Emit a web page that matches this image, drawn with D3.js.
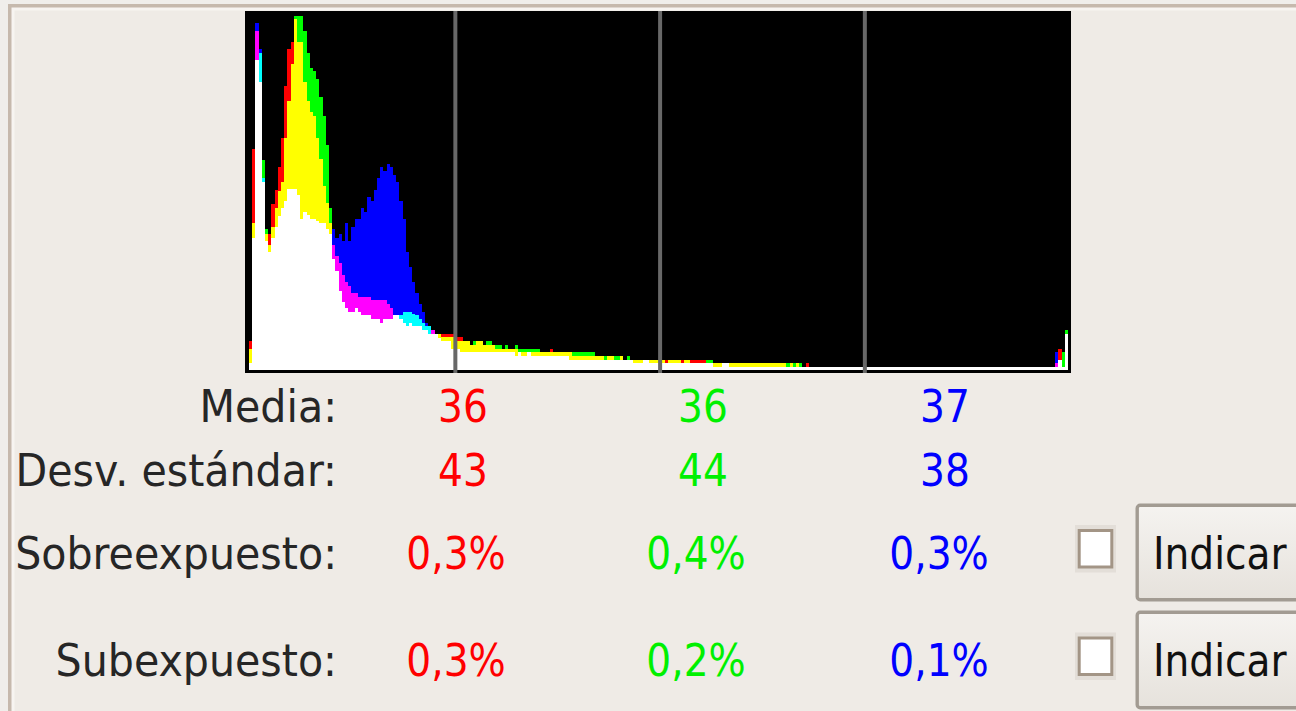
<!DOCTYPE html>
<html>
<head>
<meta charset="utf-8">
<script src="https://cdn.jsdelivr.net/npm/d3@7"></script>
<style>
  body { margin: 0; background: #f0eeeb; overflow: hidden; }
  svg { display: block; }
  text { font-family: "DejaVu Sans", sans-serif; }
</style>
</head>
<body>
<script>
// Histogram counts per level (0..255), relative units
var redCounts = [
  29,221,339,288,188,136,136,166,180,203,232,284,321,328,351,328,
  328,288,269,258,254,232,211,184,167,147,125,114,107,95,88,84,
  77,77,73,73,73,73,70,70,70,70,70,66,62,55,55,51,
  47,44,47,44,44,44,40,40,36,40,36,36,36,36,36,36,
  33,33,33,29,29,25,25,29,29,25,25,25,25,21,21,21,
  21,21,21,21,18,18,18,18,18,18,18,18,18,18,21,18,
  18,18,18,18,18,14,14,14,14,14,14,14,14,14,14,10,
  14,14,10,10,14,10,10,10,10,10,10,10,10,10,10,10,
  10,10,10,10,10,10,10,10,10,10,10,10,10,10,10,7,
  7,7,7,7,7,7,7,7,7,7,7,7,7,7,7,7,
  7,7,7,7,7,7,7,7,3,7,3,7,3,3,7,3,
  3,3,3,3,3,3,3,3,3,3,3,3,3,3,3,3,
  3,3,3,3,3,3,3,3,3,3,3,3,3,3,3,3,
  3,3,3,3,3,3,3,3,3,3,3,3,3,3,3,3,
  3,3,3,3,3,3,3,3,3,3,3,3,3,3,3,3,
  3,3,3,3,3,3,3,3,3,3,3,3,7,21,3,36
];
var greenCounts = [
  21,147,310,317,210,141,125,143,162,179,188,232,269,306,354,354,
  354,339,317,302,299,291,273,254,225,162,111,99,79,68,62,58,
  58,62,58,55,55,55,51,51,51,47,51,51,51,55,55,55,
  58,58,58,56,55,51,47,44,44,36,36,36,33,33,33,33,
  29,29,29,29,29,25,29,29,29,25,29,29,25,25,25,21,
  25,21,21,25,21,21,21,21,21,21,21,18,18,18,18,18,
  18,18,18,18,18,18,18,18,18,18,18,18,14,14,14,14,
  14,14,14,14,14,10,14,10,10,10,10,10,10,10,10,10,
  10,10,7,10,10,10,10,7,10,10,7,7,7,7,7,10,
  10,7,7,7,7,7,7,7,7,7,7,7,7,7,7,7,
  7,7,7,7,7,7,7,7,7,7,7,7,7,3,3,3,
  3,3,3,3,3,3,3,3,3,3,3,3,3,3,3,3,
  3,3,3,3,3,3,3,3,3,3,3,3,3,3,3,3,
  3,3,3,3,3,3,3,3,3,3,3,3,3,3,3,3,
  3,3,3,3,3,3,3,3,3,3,3,3,3,3,3,3,
  3,3,3,3,3,3,3,3,3,3,3,3,3,10,18,40
];
var blueCounts = [
  7,132,347,321,192,129,118,132,143,154,162,169,181,181,181,175,
  151,158,155,151,151,149,147,147,141,136,141,132,136,129,147,129,
  143,151,151,162,158,173,169,180,192,203,199,206,203,195,188,169,
  151,118,103,88,77,66,58,47,44,40,36,32,29,29,29,21,
  21,21,18,18,18,18,18,18,18,18,18,18,18,18,18,18,
  18,18,18,14,18,14,14,18,14,14,14,14,14,14,14,14,
  14,14,14,14,10,10,10,10,10,10,10,10,10,10,10,10,
  10,10,10,10,10,10,10,10,7,7,7,10,10,7,7,7,
  7,7,7,7,7,7,7,7,7,7,7,7,7,7,7,7,
  7,3,3,3,7,7,3,3,3,3,3,3,3,3,3,3,
  3,3,3,3,3,3,3,3,3,3,3,3,3,3,3,3,
  3,3,3,3,3,3,3,3,3,3,3,3,3,3,3,3,
  3,3,3,3,3,3,3,3,3,3,3,3,3,3,3,3,
  3,3,3,3,3,3,3,3,3,3,3,3,3,3,3,3,
  3,3,3,3,3,3,3,3,3,3,3,3,3,3,3,3,
  3,3,3,3,3,3,3,3,3,3,3,3,18,10,3,36
];
var gridLevels = [64, 128, 192];

// Statistics table
var rowLabels = ["Media:", "Desv. estándar:", "Sobreexpuesto:", "Subexpuesto:"];
var meanValues = ["36", "36", "37"];
var stdValues = ["43", "44", "38"];
var overValues = ["0,3%", "0,4%", "0,3%"];
var underValues = ["0,3%", "0,2%", "0,1%"];
var buttonLabel = "Indicar";

window.onload = function() {
  draw();
};

function draw() {
  var width = 1296;
  var height = 711;
  var svg = d3.select("body")
              .append("svg")
              .attr("width", width)
              .attr("height", height);

  // Frame of the dialog
  svg.append("rect").attr("x", 8).attr("y", 4).attr("width", width).attr("height", height)
     .attr("fill", "#c6b9ad");
  svg.append("rect").attr("x", 11.5).attr("y", 7.5).attr("width", width).attr("height", height)
     .attr("fill", "#f7f4f1");
  svg.append("rect").attr("x", 14.5).attr("y", 10.5).attr("width", width).attr("height", height)
     .attr("fill", "#efebe6");

  // Histogram box
  svg.append("rect")
     .attr("x", 245).attr("y", 11)
     .attr("width", 826).attr("height", 362)
     .attr("fill", "#000");

  var scaleX = d3.scaleLinear().domain([0, 256]).range([249, 1068]);
  var scaleY = d3.scaleLinear().domain([0, 356]).range([369.5, 13.5]);

  // Split each level into additive colour pieces (R+G+B -> white etc.)
  var colorOf = {"r": "#ff0000", "g": "#00ff00", "b": "#0000ff",
                 "rg": "#ffff00", "rb": "#ff00ff", "gb": "#00ffff", "rgb": "#ffffff"};
  var pieces = [];
  d3.range(256).forEach(function(i) {
    var ch = [{k: "r", v: redCounts[i]}, {k: "g", v: greenCounts[i]}, {k: "b", v: blueCounts[i]}];
    ch.sort(function(a, b) { return a.v - b.v; });
    var low = 0;
    ch.forEach(function(c, j) {
      if (c.v > low) {
        var keys = ch.slice(j).map(function(d) { return d.k; });
        var key = ["r", "g", "b"].filter(function(k) { return keys.indexOf(k) >= 0; }).join("");
        pieces.push({bin: i, y0: low, y1: c.v, color: colorOf[key]});
        low = c.v;
      }
    });
  });

  svg.append("g")
     .attr("shape-rendering", "crispEdges")
     .selectAll("rect")
     .data(pieces)
     .enter()
     .append("rect")
     .attr("x", function(d) { return scaleX(d.bin); })
     .attr("width", function(d) { return scaleX(d.bin + 1) - scaleX(d.bin); })
     .attr("y", function(d) { return scaleY(d.y1); })
     .attr("height", function(d) { return scaleY(d.y0) - scaleY(d.y1); })
     .attr("fill", function(d) { return d.color; });

  // Quarter lines
  svg.append("g")
     .selectAll("rect")
     .data(gridLevels)
     .enter()
     .append("rect")
     .attr("x", function(d) { return scaleX(d + 0.5) - 2; })
     .attr("y", 11)
     .attr("width", 4)
     .attr("height", 362)
     .attr("fill", "#686868");

  // Table of values
  var fontSize = 45;
  var baselines = [422, 486, 569, 676];
  var columns = [
    {color: "#ff0000", x: [463, 463, 456, 456]},
    {color: "#00f000", x: [703, 703, 696, 696]},
    {color: "#0000ff", x: [945, 945, 939, 939]}
  ];
  var rows = [meanValues, stdValues, overValues, underValues];

  function putText(str, x, y, anchor, color, squeeze) {
    svg.append("text")
       .text(str)
       .attr("transform", "translate(" + x + "," + y + ") scale(" + squeeze + ",1)")
       .attr("text-anchor", anchor)
       .attr("font-size", fontSize)
       .attr("fill", color);
  }

  rowLabels.forEach(function(label, r) {
    putText(label, 337, baselines[r], "end", "#262626", 0.915);
    columns.forEach(function(col, c) {
      putText(rows[r][c], col.x[r], baselines[r], "middle", col.color, 0.87);
    });
  });

  // Check boxes and buttons for the last two rows
  var grad = svg.append("defs").append("linearGradient")
                .attr("id", "btn").attr("x1", 0).attr("y1", 0).attr("x2", 0).attr("y2", 1);
  grad.append("stop").attr("offset", "0%").attr("stop-color", "#f5f3f0");
  grad.append("stop").attr("offset", "100%").attr("stop-color", "#e6e2dc");

  var controls = [{box: 525, btn: 503.5, h: 98}, {box: 632.5, btn: 610.5, h: 99}];
  controls.forEach(function(c, k) {
    svg.append("rect").attr("x", 1075).attr("y", c.box).attr("width", 41).attr("height", 47.5)
       .attr("fill", "#e3ded8");
    svg.append("rect").attr("x", 1079.2).attr("y", c.box + 5.5).attr("width", 32.6).attr("height", 36.5)
       .attr("fill", "#fff").attr("stroke", "#a39586").attr("stroke-width", 3);
    svg.append("rect").attr("x", 1137.2).attr("y", c.btn + 1.7).attr("width", 220).attr("height", c.h - 3.4)
       .attr("rx", 3)
       .attr("fill", "url(#btn)").attr("stroke", "#a29b92").attr("stroke-width", 3.4);
    putText(buttonLabel, 1153, baselines[2 + k], "start", "#111", 0.87);
  });
};
</script>
</body>
</html>
